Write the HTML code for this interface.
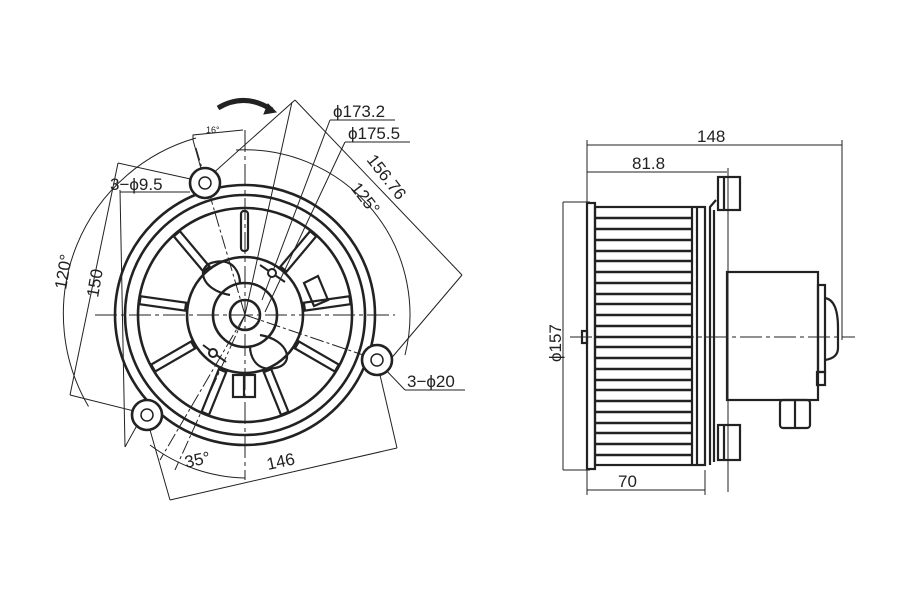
<!DOCTYPE html>
<html><head><meta charset="utf-8"><style>
html,body{margin:0;padding:0;background:#fff;}
svg{display:block;}
text{font-family:"Liberation Sans",sans-serif;fill:#222;}
</style></head><body>
<svg width="900" height="600" viewBox="0 0 900 600" xmlns="http://www.w3.org/2000/svg">
<rect width="900" height="600" fill="#fff"/>
<g stroke="#222" fill="none">
<g stroke-width="1">
<path d="M 88.5 406.5 A 183 183 0 0 1 196 138"/>
<path d="M 236 150 A 165 165 0 0 1 405 355"/>
<path d="M 193 140 L 193 135 L 243 130"/>
<line x1="193" y1="140" x2="205" y2="183"/>
<path d="M 150 445 A 163 163 0 0 0 245 478"/>
<line x1="295" y1="100" x2="462" y2="275"/>
<line x1="462" y1="275" x2="383" y2="368"/>
<line x1="295" y1="100" x2="210" y2="176"/>
<line x1="118" y1="163" x2="70" y2="395"/>
<line x1="118" y1="163" x2="195" y2="180"/>
<line x1="70" y1="395" x2="138" y2="412"/>
<line x1="120" y1="190" x2="125" y2="447"/>
<line x1="125" y1="447" x2="140" y2="420"/>
<line x1="170" y1="500" x2="397" y2="448"/>
<line x1="170" y1="500" x2="150" y2="430"/>
<line x1="397" y1="448" x2="380" y2="375"/>
<line x1="120" y1="192" x2="190" y2="192"/>
<line x1="330" y1="120" x2="395" y2="120"/>
<line x1="330" y1="120" x2="262" y2="300"/>
<line x1="345" y1="142" x2="410" y2="142"/>
<line x1="345" y1="142" x2="265" y2="312"/>
<line x1="405" y1="390" x2="465" y2="390"/>
<line x1="405" y1="390" x2="382" y2="366"/>
<line x1="245" y1="315" x2="160" y2="460" stroke-dasharray="14 3 3 3"/>
<line x1="245" y1="315" x2="175" y2="470" stroke-dasharray="14 3 3 3"/>
<line x1="245" y1="315" x2="196" y2="148" stroke-dasharray="14 3 3 3"/>
<line x1="245" y1="315" x2="378" y2="360" stroke-dasharray="14 3 3 3"/>
<line x1="245" y1="315" x2="292" y2="102"/>
<line x1="95" y1="315" x2="395" y2="315" stroke-dasharray="22 4 4 4"/>
<line x1="245" y1="130" x2="245" y2="480" stroke-dasharray="22 4 4 4"/>
</g>
<g stroke-width="2.6">
<circle cx="245" cy="315" r="130"/>
<circle cx="245" cy="315" r="120"/>
<circle cx="245" cy="315" r="107"/>
<circle cx="245" cy="315" r="58"/>
<circle cx="245" cy="315" r="32"/>
<circle cx="245" cy="315" r="15"/>
<circle cx="205" cy="183" r="15" fill="#fff"/>
<circle cx="377" cy="360" r="15" fill="#fff"/>
<circle cx="147" cy="415" r="15" fill="#fff"/>
</g>
<g stroke-width="1.5">
<circle cx="205" cy="183" r="6"/><circle cx="377" cy="360" r="6"/><circle cx="147" cy="415" r="6"/>
</g>
<g stroke-width="2.2">
<g transform="translate(245 315) rotate(-130)"><rect x="60" y="-4" width="46" height="8"/></g>
<g transform="translate(245 315) rotate(-172)"><rect x="60" y="-4" width="46" height="8"/></g>
<g transform="translate(245 315) rotate(150)"><rect x="60" y="-4" width="46" height="8"/></g>
<g transform="translate(245 315) rotate(112)"><rect x="60" y="-4" width="46" height="8"/></g>
<g transform="translate(245 315) rotate(68)"><rect x="60" y="-4" width="46" height="8"/></g>
<g transform="translate(245 315) rotate(30)"><rect x="60" y="-4" width="46" height="8"/></g>
<g transform="translate(245 315) rotate(-8)"><rect x="60" y="-4" width="46" height="8"/></g>
<g transform="translate(245 315) rotate(-50)"><rect x="60" y="-4" width="46" height="8"/></g>
<rect x="241" y="211" width="7" height="40" rx="3"/>
<rect x="233" y="375" width="22" height="22"/>
<line x1="244" y1="375" x2="244" y2="397"/>
<path d="M 304 283 L 318 276 L 328 300 L 314 306 Z"/>
<path d="M 230 295 C 200 290 195 265 215 262 C 235 258 240 275 240 284"/>
<path d="M 260 335 C 290 340 295 365 275 368 C 255 372 250 355 250 346"/>
</g>
<g stroke-width="2">
<line x1="260" y1="265" x2="285" y2="282"/><circle cx="272" cy="273" r="4" fill="#fff"/>
<line x1="203" y1="345" x2="226" y2="362"/><circle cx="213" cy="353" r="4" fill="#fff"/>
<path d="M 218 108 Q 245 92 272 110" stroke-width="5"/>
<path d="M 268 104 L 276 112 L 264 114 Z" fill="#222" stroke-width="1"/>
</g>
<g stroke-width="1">
<line x1="587" y1="145" x2="842" y2="145"/>
<line x1="587" y1="140" x2="587" y2="495"/>
<line x1="842" y1="140" x2="842" y2="340"/>
<line x1="587" y1="172" x2="727" y2="172"/>
<line x1="563" y1="202" x2="590" y2="202"/>
<line x1="563" y1="470" x2="590" y2="470"/>
<line x1="563" y1="202" x2="563" y2="470"/>
<line x1="587" y1="490" x2="705" y2="490"/>
<line x1="705" y1="470" x2="705" y2="495"/>
<line x1="728" y1="168" x2="728" y2="492"/>
<line x1="570" y1="337" x2="855" y2="337" stroke-dasharray="22 4 4 4"/>
</g>
<g stroke-width="2.2">
<rect x="587" y="203" width="8" height="266"/>
<rect x="595" y="207" width="110" height="258"/>
<line x1="692" y1="207" x2="692" y2="465"/>
<line x1="697" y1="207" x2="697" y2="465"/>
<path d="M 710 465 L 710 207 L 716 200"/>
<line x1="714" y1="210" x2="714" y2="462"/>
<rect x="718" y="177" width="22" height="33"/>
<line x1="724" y1="177" x2="724" y2="210"/>
<rect x="718" y="425" width="22" height="35"/>
<line x1="724" y1="425" x2="724" y2="460"/>
<rect x="727" y="272" width="91" height="128"/>
<rect x="818" y="285" width="7" height="87"/>
<path d="M 825 298 Q 838 300 838 328 L 838 348 Q 838 358 825 360"/>
<rect x="817" y="372" width="8" height="13"/>
<rect x="780" y="400" width="30" height="28" rx="3"/>
<line x1="795" y1="400" x2="795" y2="428"/>
<rect x="582" y="331" width="5" height="12"/>
</g>
<g stroke-width="2.6">
<line x1="595" y1="218" x2="692" y2="218"/><line x1="595" y1="229" x2="692" y2="229"/>
<line x1="595" y1="240" x2="692" y2="240"/><line x1="595" y1="251" x2="692" y2="251"/>
<line x1="595" y1="261" x2="692" y2="261"/><line x1="595" y1="272" x2="692" y2="272"/>
<line x1="595" y1="283" x2="692" y2="283"/><line x1="595" y1="294" x2="692" y2="294"/>
<line x1="595" y1="304" x2="692" y2="304"/><line x1="595" y1="315" x2="692" y2="315"/>
<line x1="595" y1="326" x2="692" y2="326"/><line x1="595" y1="337" x2="692" y2="337"/>
<line x1="595" y1="347" x2="692" y2="347"/><line x1="595" y1="358" x2="692" y2="358"/>
<line x1="595" y1="369" x2="692" y2="369"/><line x1="595" y1="380" x2="692" y2="380"/>
<line x1="595" y1="390" x2="692" y2="390"/><line x1="595" y1="401" x2="692" y2="401"/>
<line x1="595" y1="412" x2="692" y2="412"/><line x1="595" y1="423" x2="692" y2="423"/>
<line x1="595" y1="433" x2="692" y2="433"/><line x1="595" y1="444" x2="692" y2="444"/>
<line x1="595" y1="455" x2="692" y2="455"/>
</g>
</g>
<g font-size="17">
<text x="333" y="117">ϕ173.2</text>
<text x="348" y="139">ϕ175.5</text>
<text x="110" y="190">3−ϕ9.5</text>
<text x="407" y="387">3−ϕ20</text>
<text transform="translate(366 160) rotate(52)">156.76</text>
<text transform="translate(350 188) rotate(52)">125°</text>
<text transform="translate(66 290) rotate(-80)">120°</text>
<text transform="translate(98 298) rotate(-80)">150</text>
<text transform="translate(186 468) rotate(-12)">35°</text>
<text transform="translate(268 470) rotate(-12)">146</text>
<text x="697" y="142">148</text>
<text x="632" y="169">81.8</text>
<text x="618" y="487">70</text>
<text transform="translate(561 362) rotate(-90)">ϕ157</text>
<text x="206" y="133" font-size="9">16°</text>
</g>
</svg>
</body></html>
